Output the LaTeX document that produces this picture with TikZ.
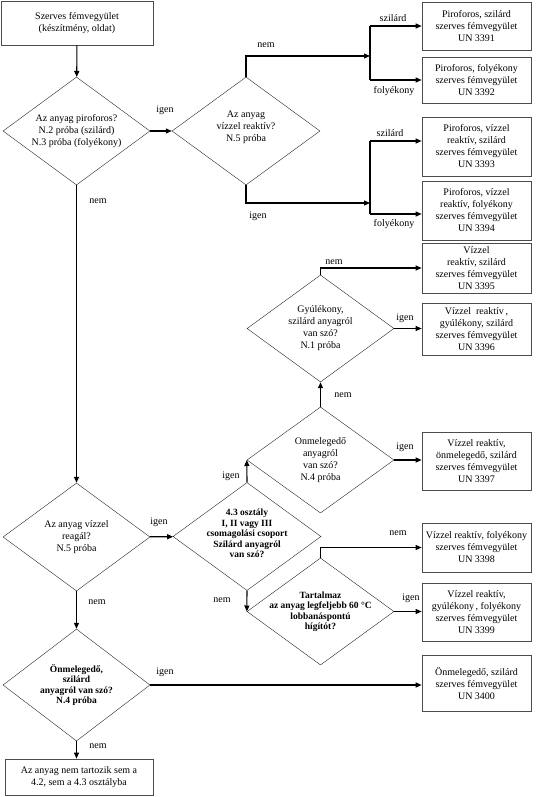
\documentclass[tikz,border=0pt]{standalone}
\usepackage{fontspec}
\setmainfont{Liberation Serif}
\usepackage{tikz}
\usetikzlibrary{arrows.meta,shapes.geometric}

\begin{document}
\begin{tikzpicture}[x=1pt,y=-1pt,font=\fontsize{10}{12}\selectfont,
  box/.style={draw=black!70,line width=0.7pt,minimum width=109pt,align=center,inner sep=2pt},
  dia/.style={draw=black!85,line width=0.4pt,diamond,minimum width=147pt,minimum height=108pt,inner sep=0pt},
  txt/.style={align=center,inner sep=0pt},
  btxt/.style={txt,font=\fontsize{9.5}{10.5}\selectfont\bfseries},
  arr/.style={line width=1.1pt,-{Triangle[length=6pt,width=5pt]}},
  ln/.style={line width=1.1pt},
  lbl/.style={inner sep=0pt}]
\useasboundingbox (0,0) rectangle (535,797);

\node[box,minimum width=152pt,minimum height=44pt] (start) at (77,23) {Szerves fémvegyület\\(készítmény, oldat)};
\node[box,minimum width=148pt,minimum height=36pt] (end) at (79,777) {Az anyag nem tartozik sem a\\4.2, sem a 4.3 osztályba};

\node[dia,label={[txt]center:{Az  anyag piroforos?\\N.2 próba (szilárd)\\N.3 próba (folyékony)}}] (q1) at (76.5,131) {};
\node[dia,minimum width=148pt,label={[txt,yshift=4pt]center:{Az anyag\\vízzel reaktív?\\N.5 próba}}] (q2) at (246,131) {};
\node[dia,label={[txt]center:{Az anyag vízzel\\reagál?\\N.5 próba}}] (q3) at (76.5,537) {};
\node[dia,minimum height=107pt,label={[txt]center:{Gyúlékony,\\szilárd anyagról\\van szó?\\N.1 próba}}] (q4) at (320.5,328.5) {};
\node[dia,minimum height=106pt,label={[txt]center:{Onmelegedő\\anyagról\\van szó?\\N.4 próba}}] (q5) at (320.5,460) {};
\node[dia,minimum width=148pt,label={[btxt,yshift=3pt]center:{4.3 osztály\\I, II vagy III\\csomagolási csoport\\Szilárd anyagról\\van szó?}}] (q6) at (247,536.5) {};
\node[dia,minimum height=107pt,label={[btxt]center:{Tartalmaz\\az anyag legfeljebb 60 °C\\lobbanáspontú\\hígítót?}}] (q7) at (320.5,611.5) {};
\node[dia,minimum height=112pt,label={[btxt]center:{Önmelegedő,\\szilárd\\anyagról van szó?\\N.4 próba}}] (q8) at (76.5,685) {};

\node[box,minimum height=48pt] (b3391) at (476.5,26) {Piroforos, szilárd\\szerves fémvegyület\\UN 3391};
\node[box,minimum height=46pt] (b3392) at (476.5,80) {Piroforos, folyékony\\szerves fémvegyület\\UN 3392};
\node[box,minimum height=59pt] (b3393) at (476.5,146.5) {Piroforos, vízzel\\reaktív, szilárd\\szerves fémvegyület\\UN 3393};
\node[box,minimum height=59pt] (b3394) at (476.5,210.5) {Piroforos, vízzel\\reaktív, folyékony\\szerves fémvegyület\\UN 3394};
\node[box,minimum height=50pt] (b3395) at (476.5,268) {Vízzel\\reaktív, szilárd\\szerves fémvegyület\\UN 3395};
\node[box,minimum height=52pt] (b3396) at (476.5,329) {Vízzel\ \ reaktív\,,\\gyúlékony, szilárd\\szerves fémvegyület\\UN 3396};
\node[box,minimum height=58pt] (b3397) at (476.5,461) {Vízzel reaktív,\\önmelegedő, szilárd\\szerves fémvegyület\\UN 3397};
\node[box,minimum height=49pt] (b3398) at (476.5,547.5) {Vízzel reaktív, folyékony\\szerves fémvegyület\\UN 3398};
\node[box,minimum height=58pt] (b3399) at (476.5,612) {Vízzel reaktív,\\gyúlékony\,, folyékony\\szerves fémvegyület\\UN 3399};
\node[box,minimum height=56pt] (b3400) at (476.5,683.5) {Önmelegedő, szilárd\\szerves fémvegyület\\UN 3400};

\coordinate (s1) at (370,56);
\coordinate (s2) at (370,203);
\coordinate (t3) at ([yshift=5.5pt]b3393.west);
\coordinate (t4) at ([yshift=-3.5pt]b3394.west);

\draw[arr] (start) -- (q1);
\draw[arr] (q1) -- (q2);
\draw[arr] (q1) -- (q3);
\draw[arr] (q2.north) |- (s1);
\draw[ln] (s1 |- b3391.west) -- (s1 |- b3392.west);
\draw[arr] (s1 |- b3391.west) -- (b3391.west);
\draw[arr] (s1 |- b3392.west) -- (b3392.west);
\draw[arr] (q2.south) |- (s2);
\draw[ln] (s2 |- t3) -- (s2 |- t4);
\draw[arr] (s2 |- t3) -- (t3);
\draw[arr] (s2 |- t4) -- (t4);
\draw[arr] (q3) -- (q6);
\draw[arr] (q3) -- (q8);
\draw[arr] (q6.north) -- (q5.west);
\draw[arr] (q5) -- (q4);
\draw[arr] (q4.north) |- (b3395.west);
\draw[arr] (q4.east) -- (q4.east -| b3396.west);
\draw[arr] (q5.east) -- (q5.east -| b3397.west);
\draw[arr] (q6.south) -- (q7.west);
\draw[arr] (q7.north) |- (b3398.west);
\draw[arr] (q7.east) -- (q7.east -| b3399.west);
\draw[arr] (q8.east) -- (q8.east -| b3400.west);
\draw[arr] (q8.south) -- (q8.south |- end.north);

\foreach \t/\x/\y [count=\i] in {igen/165/110, nem/98/201, nem/266/45, szilárd/393/18,
  folyékony/394/91, igen/258/216, szilárd/390/133, folyékony/394/224, nem/334/262,
  igen/405/318, nem/343/395, igen/405/447, igen/231/476, igen/159/522, nem/97/602,
  nem/222/600, nem/398/533, igen/411/598, igen/165/672, nem/98/746}
  \node[lbl] (lab\i) at (\x,\y) {\t};
\end{tikzpicture}
\end{document}
